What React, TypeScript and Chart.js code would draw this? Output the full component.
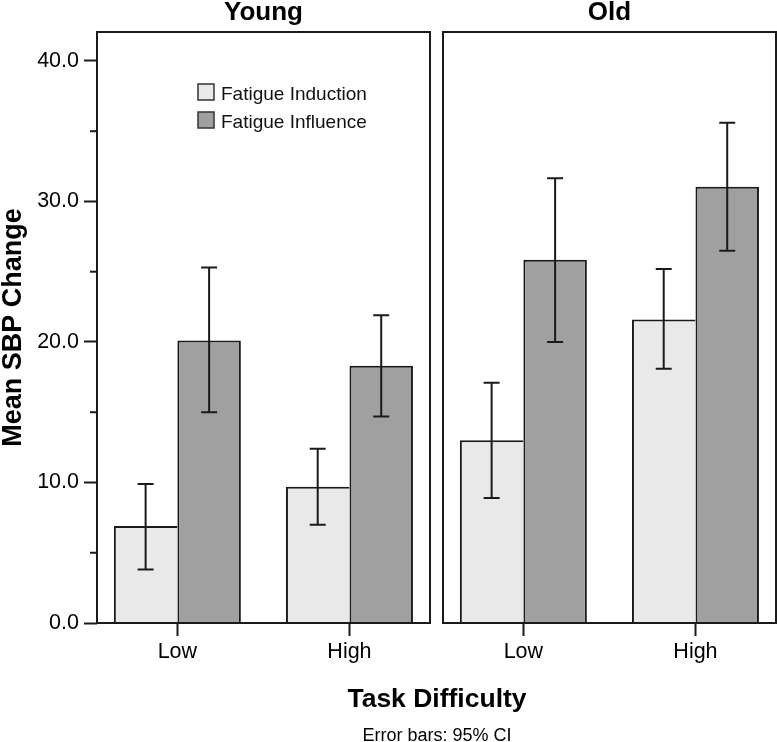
import React, { useEffect, useRef } from 'react';
import { Chart, registerables } from 'chart.js';

Chart.register(...registerables);

// ---- data ----
const categories = ['Low', 'High'];
const seriesLabels = ['Fatigue Induction', 'Fatigue Influence'];
const panelTitles = ['Young', 'Old'];

const youngInduction = [6.9, 9.7];
const youngInductionLow = [3.8, 7.0];
const youngInductionHigh = [9.9, 12.4];
const youngInfluence = [20.1, 18.3];
const youngInfluenceLow = [15.0, 14.7];
const youngInfluenceHigh = [25.3, 21.9];

const oldInduction = [13.0, 21.6];
const oldInductionLow = [8.9, 18.1];
const oldInductionHigh = [17.1, 25.2];
const oldInfluence = [25.85, 31.05];
const oldInfluenceLow = [20.0, 26.5];
const oldInfluenceHigh = [31.65, 35.6];

const yMin = 0;
const yMax = 42.06;
const yStep = 10;
const minorTicks = [5, 15, 25, 35];
const xTitle = 'Task Difficulty';
const yTitle = 'Mean SBP Change';
const footnote = 'Error bars: 95% CI';

// ---- styles ----
const FONT = "'Liberation Sans', Arial, Helvetica, sans-serif";
const INK = '#1a1a1a';
const colors = ['#e9e9e9', '#a0a0a0'];

function makeDatasets(ind: number[], indLo: number[], indHi: number[], inf: number[], infLo: number[], infHi: number[]) {
  return [
    {
      label: seriesLabels[0],
      data: categories.map((_, i) => ({ x: i, y: ind[i] })),
      errLow: indLo,
      errHigh: indHi,
      backgroundColor: colors[0],
      borderColor: INK,
      borderWidth: { top: 2, left: 2, right: 0, bottom: 0 },
      borderSkipped: 'start',
      inflateAmount: 0,
      categoryPercentage: 0.738,
      barPercentage: 1,
    },
    {
      label: seriesLabels[1],
      data: categories.map((_, i) => ({ x: i, y: inf[i] })),
      errLow: infLo,
      errHigh: infHi,
      backgroundColor: colors[1],
      borderColor: INK,
      borderWidth: { top: 2, left: 2, right: 2, bottom: 0 },
      borderSkipped: 'start',
      inflateAmount: 0,
      categoryPercentage: 0.738,
      barPercentage: 1,
    },
  ];
}

const framePlugin = {
  id: 'frame',
  afterDatasetsDraw(chart: any) {
    const { ctx, chartArea: a, scales } = chart;
    const ys = scales.y;
    ctx.save();
    // error bars
    chart.data.datasets.forEach((ds: any, di: number) => {
      const meta = chart.getDatasetMeta(di);
      meta.data.forEach((bar: any, j: number) => {
        const yl = ys.getPixelForValue(ds.errLow[j]);
        const yh = ys.getPixelForValue(ds.errHigh[j]);
        const x = bar.x;
        ctx.strokeStyle = INK;
        ctx.lineWidth = 2;
        ctx.beginPath();
        ctx.moveTo(x, yl);
        ctx.lineTo(x, yh);
        ctx.moveTo(x - 8, yl);
        ctx.lineTo(x + 8, yl);
        ctx.moveTo(x - 8, yh);
        ctx.lineTo(x + 8, yh);
        ctx.stroke();
      });
    });
    // panel frame
    ctx.strokeStyle = INK;
    ctx.lineWidth = 2;
    ctx.strokeRect(a.left, a.top, a.right - a.left, a.bottom - a.top);
    // panel title
    const opts = chart.options.plugins.frame || {};
    ctx.fillStyle = '#000';
    ctx.font = `bold 26px ${FONT}`;
    ctx.textAlign = 'center';
    ctx.textBaseline = 'alphabetic';
    ctx.fillText(opts.title || '', (a.left + a.right) / 2, 20);

    if (opts.primary) {
      // minor y ticks
      ctx.lineWidth = 2;
      minorTicks.forEach((v) => {
        const y = ys.getPixelForValue(v);
        ctx.beginPath();
        ctx.moveTo(a.left - 7, y);
        ctx.lineTo(a.left, y);
        ctx.stroke();
      });
      // legend
      const lx = a.left + 101;
      const ly = a.top + 52;
      chart.data.datasets.forEach((ds: any, i: number) => {
        const by = ly + i * 28;
        ctx.fillStyle = ds.backgroundColor;
        ctx.fillRect(lx, by, 16, 16);
        ctx.strokeStyle = '#333';
        ctx.lineWidth = 1.5;
        ctx.strokeRect(lx, by, 16, 16);
        ctx.fillStyle = '#111';
        ctx.font = `19px ${FONT}`;
        ctx.textAlign = 'left';
        ctx.textBaseline = 'alphabetic';
        ctx.fillText(ds.label, lx + 23, by + 16);
      });
      // x title and footnote
      ctx.fillStyle = '#000';
      ctx.textAlign = 'center';
      ctx.font = `bold 26.5px ${FONT}`;
      ctx.fillText(xTitle, 437, 706.5);
      ctx.font = `18px ${FONT}`;
      ctx.fillText(footnote, 437, 740.5);
    }
    ctx.restore();
  },
};

function makeOptions(primary: boolean, title: string): any {
  return {
    responsive: false,
    animation: false,
    events: [],
    layout: {
      padding: primary ? { left: 0, right: 347, top: 32, bottom: 0 } : { left: 6, right: 1, top: 32, bottom: 0 },
    },
    plugins: {
      legend: { display: false },
      title: { display: false },
      tooltip: { enabled: false },
      frame: { primary, title },
    },
    scales: {
      x: {
        type: 'linear',
        min: -0.467,
        max: 1.468,
        offset: false,
        afterBuildTicks: (s: any) => {
          s.ticks = categories.map((_, i) => ({ value: i }));
        },
        afterFit: (s: any) => {
          s.height = 742 - 623;
        },
        ticks: {
          autoSkip: false,
          maxRotation: 0,
          padding: 3,
          color: '#000',
          font: { family: FONT, size: 21.5 },
          callback: (v: number) => categories[v] ?? '',
        },
        grid: {
          offset: false,
          drawOnChartArea: false,
          drawTicks: true,
          tickLength: 13,
          tickWidth: 2,
          tickColor: INK,
        },
        border: { display: false },
      },
      y: {
        display: primary,
        min: yMin,
        max: yMax,
        afterFit: (s: any) => {
          if (primary) s.width = 97;
        },
        ticks: {
          stepSize: yStep,
          includeBounds: false,
          padding: 5,
          color: '#000',
          font: { family: FONT, size: 21.5 },
          callback: (v: number) => v.toFixed(1),
        },
        grid: {
          drawOnChartArea: false,
          drawTicks: true,
          tickLength: 13,
          tickWidth: 2,
          tickColor: INK,
        },
        border: { display: false },
        title: {
          display: true,
          text: yTitle,
          color: '#000',
          padding: 0,
          font: { family: FONT, size: 27, weight: 'bold', lineHeight: 1 },
        },
      },
    },
  };
}

export default function App() {
  const leftRef = useRef<HTMLCanvasElement>(null);
  const rightRef = useRef<HTMLCanvasElement>(null);

  useEffect(() => {
    const c1 = new Chart(leftRef.current as HTMLCanvasElement, {
      type: 'bar',
      data: {
        datasets: makeDatasets(youngInduction, youngInductionLow, youngInductionHigh, youngInfluence, youngInfluenceLow, youngInfluenceHigh) as any,
      },
      options: makeOptions(true, panelTitles[0]),
      plugins: [framePlugin],
    });
    const c2 = new Chart(rightRef.current as HTMLCanvasElement, {
      type: 'bar',
      data: {
        datasets: makeDatasets(oldInduction, oldInductionLow, oldInductionHigh, oldInfluence, oldInfluenceLow, oldInfluenceHigh) as any,
      },
      options: makeOptions(false, panelTitles[1]),
      plugins: [framePlugin],
    });
    return () => {
      c1.destroy();
      c2.destroy();
    };
  }, []);

  return (
    <div style={{ position: 'fixed', left: 0, top: 0, width: 777, height: 742, background: '#fff' }}>
      <canvas ref={leftRef} width={777} height={742} style={{ position: 'absolute', left: 0, top: 0 }} />
      <canvas ref={rightRef} width={340} height={742} style={{ position: 'absolute', left: 437, top: 0 }} />
    </div>
  );
}
